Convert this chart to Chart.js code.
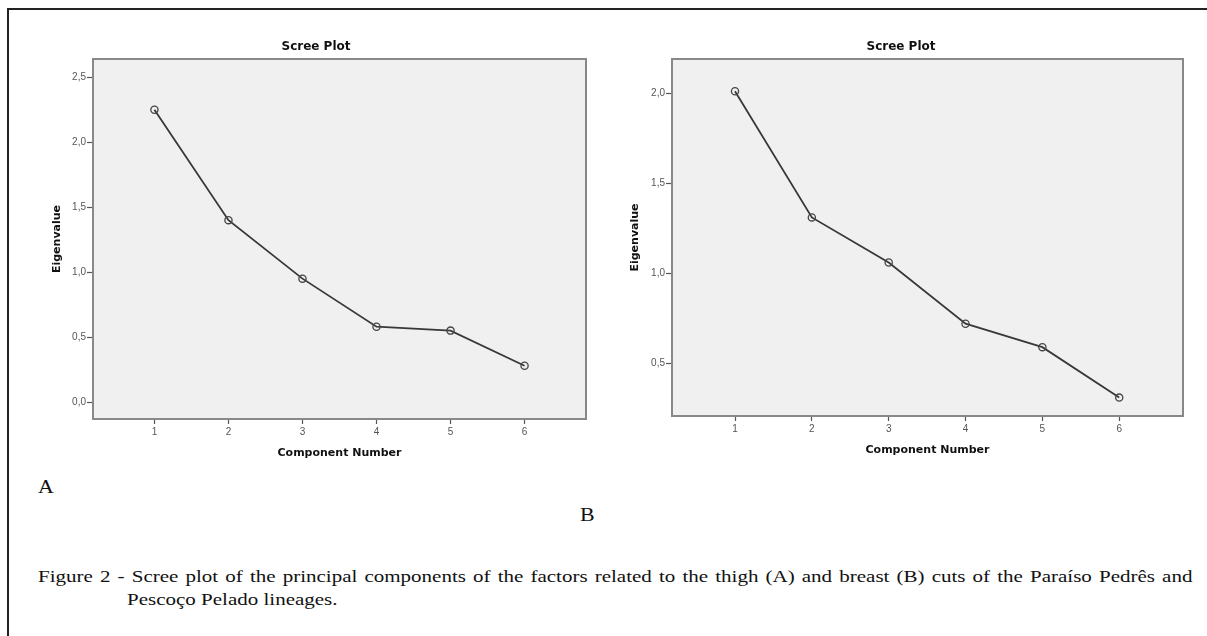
<!DOCTYPE html>
<html>
<head>
<meta charset="utf-8">
<script src="https://cdn.jsdelivr.net/npm/chart.js@4.4.1/dist/chart.umd.min.js"></script>
<style>
  body { margin:0; background:#fff; width:1207px; height:636px; overflow:hidden; position:relative; }
  #frame { position:absolute; left:7px; top:8px; width:1300px; height:700px; border-left:2px solid #222; border-top:2px solid #222; }
  #chartA { position:absolute; left:0; top:0; }
  #chartB { position:absolute; left:600px; top:0; }
  .lbl { position:absolute; font-family:"Liberation Serif","Times New Roman",serif; font-size:19px; line-height:20px; color:#111;
         transform:scaleX(1.15); transform-origin:left top; }
  .cap { position:absolute; font-family:"Liberation Serif","Times New Roman",serif; font-size:17.5px; line-height:20px; color:#111;
         white-space:nowrap; transform:scaleX(1.2); transform-origin:left top; }
  #cap1 { left:38px; width:962px; top:566px; text-align:justify; text-align-last:justify; }
  #cap2 { left:127px; top:589px; }
</style>
</head>
<body>
<div id="frame"></div>
<canvas id="chartA" width="610" height="470"></canvas>
<canvas id="chartB" width="607" height="470"></canvas>
<div class="lbl" style="left:38px;top:477px;">A</div>
<div class="lbl" style="left:580px;top:505px;">B</div>
<div class="cap" id="cap1">Figure 2 - Scree plot of the principal components of the factors related to the thigh (A) and breast (B) cuts of the Paraíso Pedrês and</div>
<div class="cap" id="cap2">Pescoço Pelado lineages.</div>

<script>
// datos
const components = [1, 2, 3, 4, 5, 6];
const eigenThigh = [2.25, 1.40, 0.95, 0.58, 0.55, 0.28];   // A
const eigenBreast = [2.01, 1.31, 1.06, 0.72, 0.59, 0.31];  // B
const yTicksThigh = [0, 0.5, 1, 1.5, 2, 2.5];
const yTicksBreast = [0.5, 1, 1.5, 2];

Chart.defaults.font.family = 'DejaVu Sans';

// fondo gris y marco del area del grafico (estilo SPSS)
const plotFrame = {
  id: 'plotFrame',
  beforeDatasetsDraw(chart) {
    const { ctx, chartArea: a } = chart;
    ctx.save();
    ctx.fillStyle = '#f0f0f0';
    ctx.fillRect(a.left, a.top, a.width, a.height);
    ctx.strokeStyle = '#888';
    ctx.lineWidth = 2;
    ctx.strokeRect(a.left, a.top, a.width, a.height);
    ctx.restore();
  }
};

function screePlot(id, values, yTicks, o) {
  return new Chart(document.getElementById(id), {
    type: 'scatter',
    data: {
      datasets: [{
        data: components.map((c, i) => ({ x: c, y: values[i] })),
        showLine: true,
        borderColor: '#383838',
        borderWidth: 1.8,
        pointRadius: 3.6,
        pointBackgroundColor: 'rgba(0,0,0,0)',
        pointBorderColor: '#444',
        pointBorderWidth: 1.3,
        clip: false
      }]
    },
    options: {
      responsive: false,
      animation: false,
      layout: { padding: { left: o.padLeft, right: o.padRight, top: 0, bottom: 0 } },
      scales: {
        x: {
          type: 'linear',
          min: o.xMin,
          max: o.xMax,
          afterBuildTicks: s => { s.ticks = components.map(v => ({ value: v })); },
          afterFit: s => { s.height = o.xHeight; },
          border: { display: false },
          grid: { drawOnChartArea: false, drawTicks: true, tickLength: 5, tickColor: '#555', tickWidth: 1.2 },
          ticks: { color: '#555', font: { family: 'Liberation Sans', size: 10 }, padding: 2, maxRotation: 0,
                   callback: v => String(v) },
          title: { display: true, text: 'Component Number', color: '#111',
                   font: { family: 'DejaVu Sans', weight: 'bold', size: 11 },
                   padding: { top: 0, bottom: o.xTitlePad } }
        },
        y: {
          type: 'linear',
          min: o.yMin,
          max: o.yMax,
          afterBuildTicks: s => { s.ticks = yTicks.map(v => ({ value: v })); },
          afterFit: s => { s.width = o.yWidth; },
          border: { display: false },
          grid: { drawOnChartArea: false, drawTicks: true, tickLength: 6, tickColor: '#555', tickWidth: 1.2 },
          ticks: { color: '#555', font: { family: 'Liberation Sans', size: 10 }, padding: 1,
                   callback: v => v.toFixed(1).replace('.', ',') },
          title: { display: true, text: 'Eigenvalue', color: '#111',
                   font: { family: 'DejaVu Sans', weight: 'bold', size: 11 },
                   padding: { top: o.yTitlePad, bottom: 0 } }
        }
      },
      plugins: {
        legend: { display: false },
        tooltip: { enabled: false },
        title: {
          display: true,
          text: 'Scree Plot',
          color: '#111',
          font: { family: 'DejaVu Sans', weight: 'bold', size: 12 },
          padding: { top: 40, bottom: 4.6 }
        }
      }
    },
    plugins: [plotFrame]
  });
}

screePlot('chartA', eigenThigh, yTicksThigh, {
  xMin: 0.17, xMax: 6.83, yMin: -0.13, yMax: 2.64,
  padLeft: 46, padRight: 24, yWidth: 47, xHeight: 51, yTitlePad: 4.4, xTitlePad: 10.4
});

screePlot('chartB', eigenBreast, yTicksBreast, {
  xMin: 0.18, xMax: 6.83, yMin: 0.208, yMax: 2.189,
  padLeft: 19, padRight: 24, yWidth: 53, xHeight: 54, yTitlePad: 9.4, xTitlePad: 13.4
});
</script>
</body>
</html>
